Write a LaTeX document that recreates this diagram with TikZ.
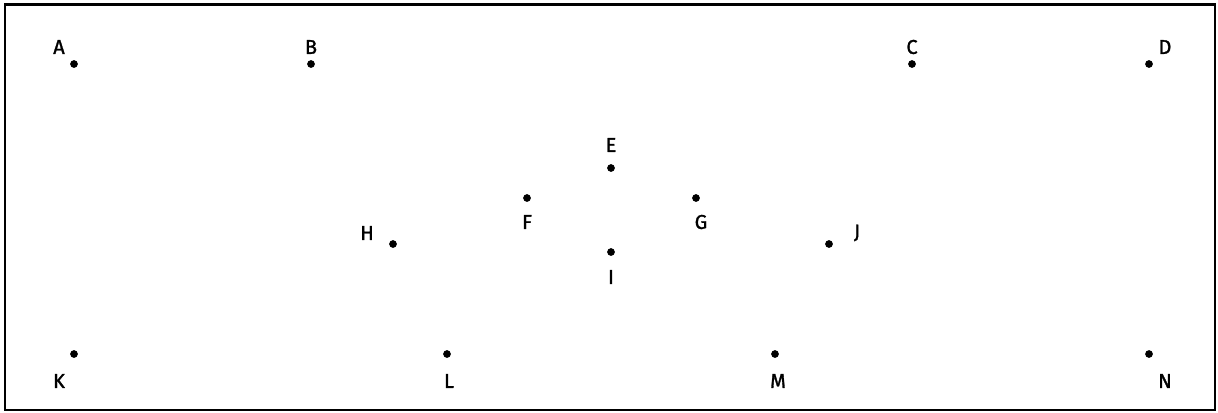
\documentclass[tikz,border=0pt]{standalone}
\usepackage{fontspec}
\setmainfont{Fira Sans}
\newfontfamily\labfont{Fira Sans}[FakeBold=1.4]
\begin{document}
\begin{tikzpicture}[x=0.75pt,y=-0.75pt,
  dot/.style={circle,fill=black,inner sep=0pt,minimum size=5.8pt},
  lab/.style={inner sep=0pt,font=\labfont\fontsize{15}{16}\selectfont}]
\useasboundingbox (0,0) rectangle (1218,412);
\draw[line width=2.2pt] (5,4.5) rectangle (1215,410);
\foreach \n/\x/\y/\lx/\ly in {A/74/64/59/47, B/311/64/311/47, C/912/64/912/47, D/1149/64/1165/47,
  E/611/168/611/145, F/527/198/527/222, G/696/198/701/222, H/393/244/367/233,
  I/611/252/611/277, J/829/244/857/233, K/74/354/59/381, L/447/354/449/381,
  M/775/354/778/381, N/1149/354/1165/381}{
  \node[dot] (\n) at (\x,\y) {};
  \node[lab] (lab\n) at (\lx,\ly) {\n};
}
\end{tikzpicture}
\end{document}
